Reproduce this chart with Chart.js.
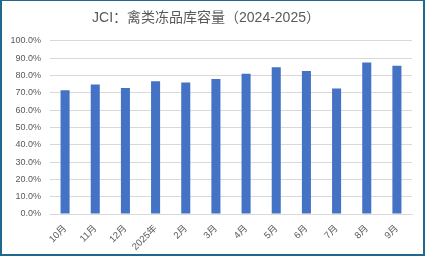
<!DOCTYPE html>
<html>
<head>
<meta charset="utf-8">
<script src="https://cdn.jsdelivr.net/npm/chart.js@4"></script>
<style>
html,body{margin:0;padding:0;background:#fff;}
#wrap{position:relative;width:425px;height:256px;}
#frame{position:absolute;left:0;top:0;width:425px;height:256px;box-sizing:border-box;border:2px solid #1f6a8c;border-top-width:1px;pointer-events:none;}
canvas{position:absolute;left:0;top:0;}
</style>
</head>
<body>
<div id="wrap">
<canvas id="c" width="425" height="256"></canvas>
<div id="frame"></div>
</div>
<script>
const titleText = 'JCI：禽类冻品库容量（2024-2025）';
const categories = ['10月','11月','12月','2025年','2月','3月','4月','5月','6月','7月','8月','9月'];
const capacity = [71.5, 74.8, 72.7, 76.7, 75.9, 77.9, 81.0, 84.8, 82.5, 72.5, 87.5, 85.6];
const yTicks = [0,10,20,30,40,50,60,70,80,90,100];

const FONT = '"Liberation Sans", Arial, "Noto Sans CJK SC", sans-serif';
new Chart(document.getElementById('c'), {
  type: 'bar',
  data: {
    labels: categories,
    datasets: [{
      data: capacity,
      backgroundColor: '#4472C4',
      borderWidth: 0,
      categoryPercentage: 1,
      barPercentage: 0.3
    }]
  },
  options: {
    responsive: false,
    animation: false,
    layout: { padding: { left: 0, right: 13, top: 0, bottom: 0 } },
    plugins: {
      legend: { display: false },
      tooltip: { enabled: false },
      title: {
        display: true,
        text: titleText,
        color: '#595959',
        font: { family: FONT, size: 14, weight: 'normal' },
        padding: { top: 10, bottom: 14 }
      }
    },
    scales: {
      x: {
        grid: { display: false, drawTicks: false },
        border: { display: true, color: '#D9D9D9', width: 1 },
        ticks: {
          color: '#595959',
          font: { family: FONT, size: 9.5 },
          maxRotation: 45, minRotation: 45,
          padding: 9,
          autoSkip: false
        },
        afterFit: s => { s.height = 42; }
      },
      y: {
        min: 0, max: 100,
        afterBuildTicks: s => { s.ticks = yTicks.map(v => ({ value: v })); },
        grid: { color: '#D9D9D9', lineWidth: 1, drawTicks: false },
        border: { display: false },
        ticks: {
          color: '#595959',
          font: { family: FONT, size: 9 },
          padding: 9,
          callback: v => v.toFixed(1) + '%'
        },
        afterFit: s => { s.width = 50; }
      }
    }
  }
});
</script>
</body>
</html>
